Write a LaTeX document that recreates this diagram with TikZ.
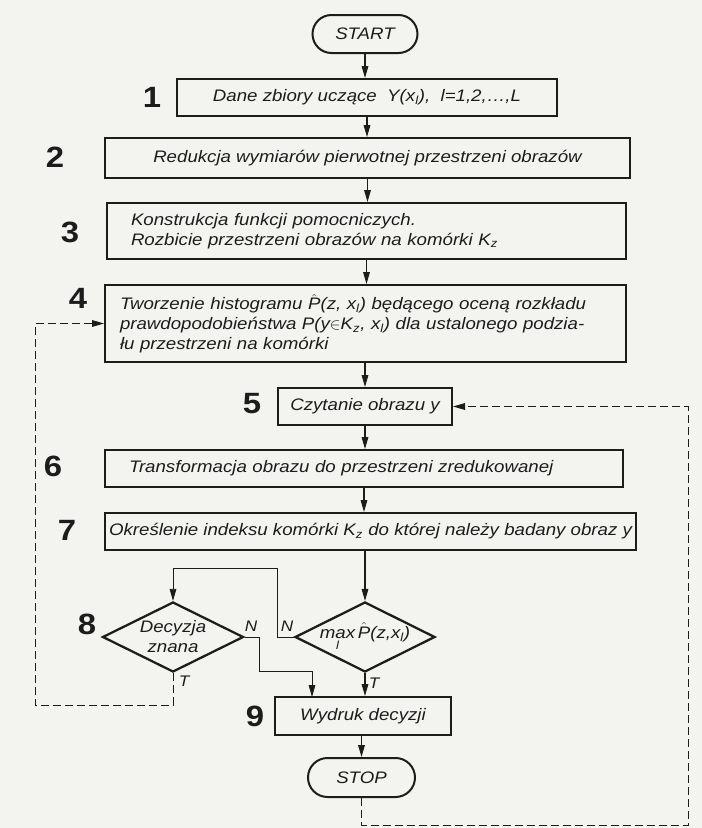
\documentclass[tikz,border=0pt]{standalone}
\usepackage{fontspec}
\setmainfont{Liberation Sans}[FakeStretch=1.12]
\usepackage{amsmath}
\usetikzlibrary{shapes.geometric,shapes.misc,arrows.meta,calc}
\definecolor{paper}{RGB}{243,243,240}
\definecolor{ink}{RGB}{28,28,28}
\newcommand{\lsub}[1]{\textsubscript{\itshape #1}}
\newcommand{\Phat}{\ensuremath{\hat{\text{\itshape P}}}}
\tikzset{
  wh/.style 2 args={minimum width=#1*0.75pt, minimum height=#2*0.75pt},
  txt/.style={font=\itshape\fontsize{12.5}{15}\selectfont, text=ink},
  box/.style={txt, draw=ink, line width=1.5pt, rectangle, inner sep=0pt},
  term/.style={txt, draw=ink, line width=1.5pt, rounded rectangle, inner sep=0pt},
  dec/.style={draw=ink, line width=1.7pt, diamond, inner sep=0pt},
  num/.style={font=\bfseries\fontsize{22}{22}\selectfont, text=ink},
  lbl/.style={font=\itshape\fontsize{11.5}{12}\selectfont, text=ink},
  arr/.style={draw=ink, line width=0.8pt, -{Triangle[length=9pt,width=5pt]}},
  conn/.style={arr, line width=0.6pt},
  dashconn/.style={arr, line width=0.7pt, dash pattern=on 6pt off 3pt}
}
\begin{document}
\begin{tikzpicture}[x=0.75pt,y=-0.75pt]
\fill[paper] (0,0) rectangle (702,828);
\useasboundingbox (0,0) rectangle (702,828);

% terminals and boxes
\node[term, wh={105}{38}] (start) at (365,34) {START};
\node[box, wh={380}{37}] (b1) at (367,97.5) {Dane zbiory uczące \ Y(x\lsub{l}), \ l=1,2,\ldots,L};
\node[box, wh={525}{40}] (b2) at (367.5,158) {Redukcja wymiarów pierwotnej przestrzeni obrazów};
\node[box, wh={519}{56}, align=left, inner xsep=24*0.75pt, text width=471*0.75pt] (b3) at (366.5,231)
  {Konstrukcja funkcji pomocniczych.\\Rozbicie przestrzeni obrazów na komórki K\lsub{z}};
\node[box, wh={521}{77}, align=left, inner xsep=15*0.75pt, text width=491*0.75pt] (b4) at (365.5,323.5)
  {Tworzenie histogramu \Phat(z, x\lsub{l}) będącego oceną rozkładu\\
   prawdopodobieństwa P(y$\in$K\lsub{z}, x\lsub{l}) dla ustalonego podzia-\\
   łu przestrzeni na komórki};
\node[box, wh={174}{37}] (b5) at (365,406.5) {Czytanie obrazu y};
\node[box, wh={518}{37}, align=left, inner xsep=24*0.75pt, text width=470*0.75pt] (b6) at (364,468.5)
  {Transformacja obrazu do przestrzeni zredukowanej};
\node[box, wh={531}{37}] (b7) at (370.5,531.5) {Określenie indeksu komórki K\lsub{z} do której należy badany obraz y};
\node[dec, wh={141}{70}] (d8) at (173,637) {};
\node[txt, align=center] (d8t) at (d8) {Decyzja\\znana};
\node[dec, wh={140}{70}] (dm) at (365,637) {};
\node[txt] (dmt) at (dm) {$\mathop{\text{\itshape max}}\limits_{\text{\itshape l}}$\,\Phat(z,x\lsub{l})};
\node[box, wh={176}{38}] (b9) at (363,716) {Wydruk decyzji};
\node[term, wh={107}{39}] (stop) at (361.5,777.5) {STOP};

% step numbers
\node[num] (n1) at (152,97) {1};
\node[num] (n2) at (55,157) {2};
\node[num] (n3) at (70,232) {3};
\node[num] (n4) at (78,298) {4};
\node[num] (n5) at (252,404) {5};
\node[num] (n6) at (53,466) {6};
\node[num] (n7) at (67,530) {7};
\node[num] (n8) at (87,624) {8};
\node[num] (n9) at (255,716) {9};

% branch labels
\node[lbl] (lN1) at (251,626) {N};
\node[lbl] (lN2) at (287,626) {N};
\node[lbl] (lT1) at (184,681) {T};
\node[lbl] (lT2) at (374,683) {T};

% main flow
\draw[arr] (start.south) -- (start.south |- b1.north);
\draw[arr] (b1.south) -- (b1.south |- b2.north);
\draw[arr] (b2.south) -- (b2.south |- b3.north);
\draw[arr] (b3.south) -- (b3.south |- b4.north);
\draw[arr] (b5.north |- b4.south) -- (b5.north);
\draw[arr] (b5.south) -- (b5.south |- b6.north);
\draw[arr] (b6.south) -- (b6.south |- b7.north);
\draw[arr] (dm.north |- b7.south) -- (dm.north);
\draw[arr] (dm.south) -- (dm.south |- b9.north);
\draw[arr] (stop.north |- b9.south) -- (stop.north);

% branches
\coordinate (nA) at (277,568);
\draw[conn] (dm.west) -| (nA) -| (d8.north);
\coordinate (nB) at (259,671);
\coordinate (nC) at (312,697);
\draw[conn] (d8.east) -| (nB) -| (nC);
\coordinate (tA) at (35,705);
\draw[dashconn] (d8.south) |- (tA) |- (b4.west);
\coordinate (rA) at (688,825);
\draw[dashconn] (stop.south) |- (rA) |- (b5.east);
\end{tikzpicture}
\end{document}
